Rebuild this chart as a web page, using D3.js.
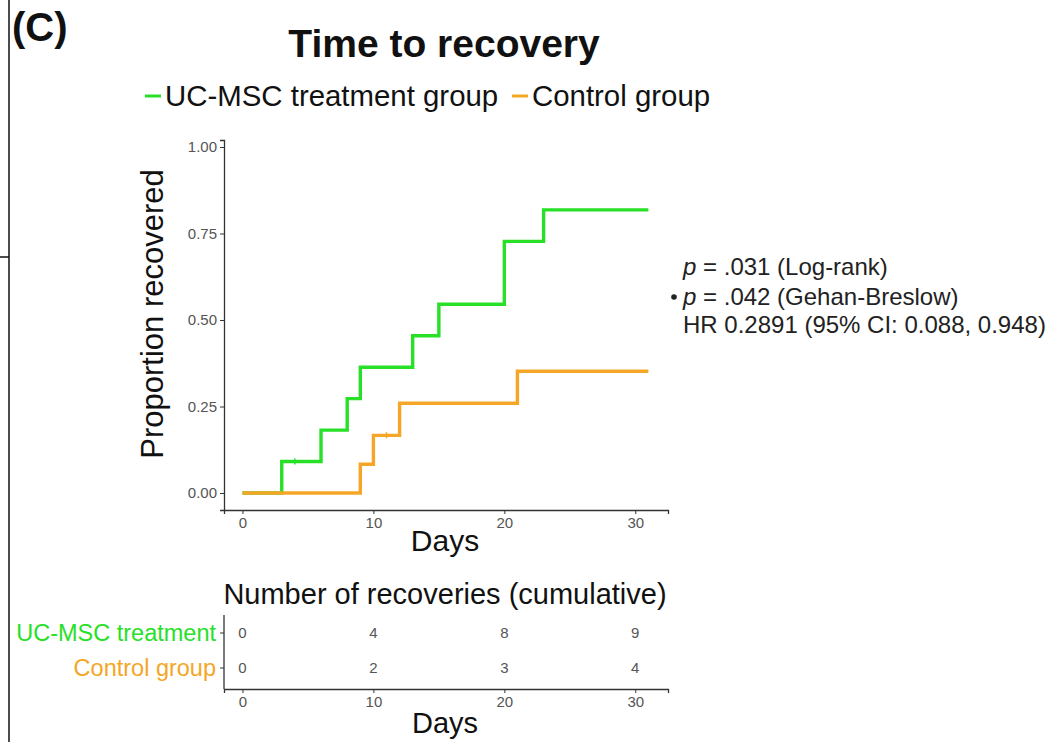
<!DOCTYPE html>
<html>
<head>
<meta charset="utf-8">
<script src="https://cdn.jsdelivr.net/npm/d3@7"></script>
<style>
  html, body { margin: 0; padding: 0; background: #fff; }
  svg { display: block; font-family: "Liberation Sans", Arial, sans-serif; }
</style>
</head>
<body>
<svg id="chart" width="1060" height="742"></svg>
<script>
// ---- data ----
const groups = ["UC-MSC treatment group", "Control group"];
const groupColors = ["#27e027", "#f5a626"];
const treatmentDays = [0, 3, 6, 8, 9, 13, 15, 20, 23, 31];
const treatmentProp = [0, 0.0909, 0.1818, 0.2727, 0.3636, 0.4545, 0.5455, 0.7273, 0.8182, 0.8182];
const controlDays = [0, 9, 10, 12, 21, 31];
const controlProp = [0, 0.0833, 0.1667, 0.2593, 0.3519, 0.3519];
const treatmentCensorDays = [4];
const treatmentCensorProp = [0.0909];
const controlCensorDays = [11];
const controlCensorProp = [0.1667];
const yTicks = [0, 0.25, 0.5, 0.75, 1.0];
const xTicks = [0, 10, 20, 30];
const tableRows = ["UC-MSC treatment", "Control group"];
const tableDays = [0, 10, 20, 30];
const treatmentCounts = [0, 4, 8, 9];
const controlCounts = [0, 2, 3, 4];
const statLines = [
  {p: true, text: " = .031 (Log-rank)", star: false},
  {p: true, text: " = .042 (Gehan-Breslow)", star: true},
  {p: false, text: "HR 0.2891 (95% CI: 0.088, 0.948)", star: false}
];

const svg = d3.select("#chart");
const axisColor = "#333";
const tickText = "#555";
const narrow = "'Liberation Sans Narrow', 'Liberation Sans', Arial, sans-serif";

// frame lines
svg.append("line").attr("x1", 9).attr("x2", 9).attr("y1", 0).attr("y2", 742)
  .attr("stroke", "#111").attr("stroke-width", 1.5);
svg.append("line").attr("x1", 0).attr("x2", 9).attr("y1", 257).attr("y2", 257)
  .attr("stroke", "#111").attr("stroke-width", 1.5);

// panel label
svg.append("text").attr("x", 12).attr("y", 41).attr("font-size", 40).attr("font-weight", "bold")
  .attr("fill", "#111").text("(C)");

// title
svg.append("text").attr("x", 444).attr("y", 57).attr("text-anchor", "middle")
  .attr("font-size", 39).attr("font-weight", "bold").attr("fill", "#111").text("Time to recovery");

// legend
const legendX = [145, 512];
groups.forEach((g, i) => {
  svg.append("line").attr("x1", legendX[i]).attr("x2", legendX[i] + 16).attr("y1", 96).attr("y2", 96)
    .attr("stroke", groupColors[i]).attr("stroke-width", 3);
  svg.append("text").attr("x", legendX[i] + 20).attr("y", 106).attr("font-size", 29.4)
    .attr("fill", "#111").text(g);
});

// scales
const x = d3.scaleLinear().domain([-1.41, 32.5]).range([224, 668]);
const y = d3.scaleLinear().domain([-0.0491, 1.0202]).range([510, 140]);

// axes
const yAxis = svg.append("g").attr("transform", "translate(224,0)")
  .call(d3.axisLeft(y).tickValues(yTicks).tickFormat(d3.format(".2f")).tickSizeOuter(0).tickSize(4).tickPadding(3));
const xAxis = svg.append("g").attr("transform", "translate(0,510)")
  .call(d3.axisBottom(x).tickValues(xTicks).tickSizeOuter(0).tickSize(4).tickPadding(3));
[yAxis, xAxis].forEach(a => {
  a.select(".domain").attr("stroke", axisColor).attr("stroke-width", 1.3);
  a.selectAll(".tick line").attr("stroke", axisColor);
  a.selectAll(".tick text").attr("fill", tickText).attr("font-size", 15).attr("font-family", narrow);
});

// axis titles
svg.append("text").attr("transform", "translate(163,314) rotate(-90)").attr("text-anchor", "middle")
  .attr("font-size", 31).attr("fill", "#111").text("Proportion recovered");
svg.append("text").attr("x", 445).attr("y", 551).attr("text-anchor", "middle")
  .attr("font-size", 30).attr("fill", "#111").text("Days");

// step lines
const line = d3.line().x(d => x(d[0])).y(d => y(d[1])).curve(d3.curveStepAfter);
const series = [
  {days: treatmentDays, prop: treatmentProp, cd: treatmentCensorDays, cp: treatmentCensorProp, color: groupColors[0]},
  {days: controlDays, prop: controlProp, cd: controlCensorDays, cp: controlCensorProp, color: groupColors[1]}
];
series.forEach(s => {
  svg.append("path").datum(s.days.map((d, i) => [d, s.prop[i]]))
    .attr("d", line).attr("fill", "none").attr("stroke", s.color).attr("stroke-width", 3.4);
  s.cd.forEach((d, i) => {
    const cx = x(d), cy = y(s.cp[i]);
    svg.append("path").attr("d", `M${cx - 3},${cy}H${cx + 3}M${cx},${cy - 3}V${cy + 3}`)
      .attr("stroke", s.color).attr("stroke-width", 1.5);
  });
});

// statistics annotation
const statY = [275, 305, 333];
statLines.forEach((s, i) => {
  const t = svg.append("text").attr("x", 683).attr("y", statY[i]).attr("font-size", 24).attr("fill", "#222");
  if (s.p) t.append("tspan").attr("font-style", "italic").text("p");
  t.append("tspan").text(s.text);
  if (s.star) {
    svg.append("circle").attr("cx", 674).attr("cy", 297).attr("r", 2.8).attr("fill", "#222");
  }
});

// risk table
svg.append("text").attr("x", 445).attr("y", 604).attr("text-anchor", "middle")
  .attr("font-size", 29).attr("fill", "#111").text("Number of recoveries (cumulative)");

const rowY = d3.scalePoint().domain(tableRows).range([633, 668]);
const tableY = svg.append("g").attr("transform", "translate(224,0)");
tableY.append("line").attr("x1", 0).attr("x2", 0).attr("y1", 615).attr("y2", 689)
  .attr("stroke", axisColor).attr("stroke-width", 1.3);
tableRows.forEach((r, i) => {
  tableY.append("line").attr("x1", -4).attr("x2", 0).attr("y1", rowY(r)).attr("y2", rowY(r)).attr("stroke", axisColor);
  svg.append("text").attr("x", 216).attr("y", rowY(r)).attr("dy", "0.35em").attr("text-anchor", "end")
    .attr("font-size", 23.5).attr("fill", groupColors[i]).text(r);
});
const tableX = svg.append("g").attr("transform", "translate(0,689)")
  .call(d3.axisBottom(x).tickValues(xTicks).tickSizeOuter(0).tickSize(4).tickPadding(3));
tableX.select(".domain").attr("stroke", axisColor).attr("stroke-width", 1.3);
tableX.selectAll(".tick line").attr("stroke", axisColor);
tableX.selectAll(".tick text").attr("fill", tickText).attr("font-size", 15).attr("font-family", narrow);

[treatmentCounts, controlCounts].forEach((counts, i) => {
  counts.forEach((c, j) => {
    svg.append("text").attr("x", x(tableDays[j])).attr("y", rowY(tableRows[i])).attr("dy", "0.35em")
      .attr("text-anchor", "middle").attr("font-size", 15).attr("fill", tickText)
      .attr("font-family", narrow).text(c);
  });
});
svg.append("text").attr("x", 445).attr("y", 733).attr("text-anchor", "middle")
  .attr("font-size", 29).attr("fill", "#111").text("Days");
</script>
</body>
</html>
